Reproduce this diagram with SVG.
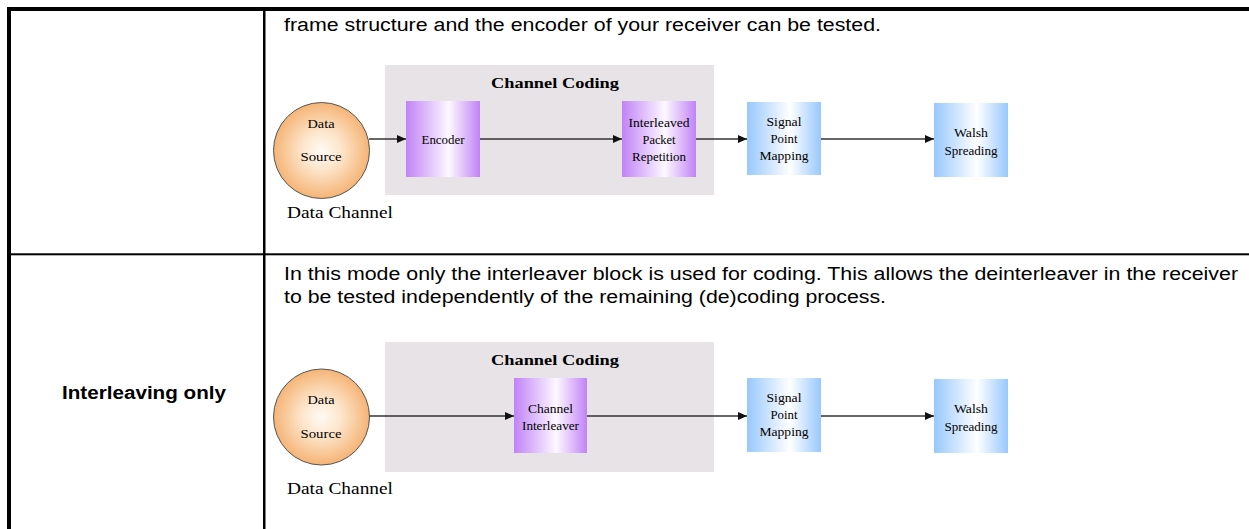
<svg xmlns="http://www.w3.org/2000/svg" width="1249" height="529" viewBox="0 0 1249 529">
<defs>
<linearGradient id="gPurple" x1="0" y1="0" x2="1" y2="0">
<stop offset="0" stop-color="#c183f6"/>
<stop offset="0.58" stop-color="#fdf8ff"/>
<stop offset="1" stop-color="#c183f6"/>
</linearGradient>
<linearGradient id="gBlue" x1="0" y1="0" x2="1" y2="0">
<stop offset="0" stop-color="#98c8fd"/>
<stop offset="0.58" stop-color="#ffffff"/>
<stop offset="1" stop-color="#98c8fd"/>
</linearGradient>
<radialGradient id="gOrange" cx="0.5" cy="0.5" r="0.5">
<stop offset="0" stop-color="#fffaf4"/>
<stop offset="0.4" stop-color="#fde6cc"/>
<stop offset="1" stop-color="#f5b476"/>
</radialGradient>
<marker id="arr" markerWidth="9" markerHeight="8" refX="9" refY="4" orient="auto" markerUnits="userSpaceOnUse">
<path d="M0,0 L9,4 L0,8 Z" fill="#111"/>
</marker>
<style>
.rule{fill:#000}
.body{font-family:"Liberation Sans",Arial,sans-serif;font-size:18px;fill:#000}
.bold{font-family:"Liberation Sans",Arial,sans-serif;font-size:18px;font-weight:bold;fill:#000}
.grp{fill:#e7e3e7}
.cc{font-family:"Liberation Serif","Times New Roman",serif;font-size:15px;font-weight:bold;fill:#000}
.lbl{font-family:"Liberation Serif","Times New Roman",serif;font-size:12px;fill:#000}
.cap{font-family:"Liberation Serif","Times New Roman",serif;font-size:16px;fill:#000}
.src{fill:url(#gOrange);stroke:#555;stroke-width:1}
.pbox{fill:url(#gPurple)}
.bbox{fill:url(#gBlue)}
.con{stroke:#333;stroke-width:1.3;fill:none;marker-end:url(#arr)}
</style>
</defs>
<rect width="1249" height="529" fill="#fff"/>
<g id="table">
<rect class="rule" x="7" y="7" width="1242" height="4"/>
<rect class="rule" x="7" y="7" width="4" height="522"/>
<rect class="rule" x="263" y="7" width="2.5" height="522"/>
<rect class="rule" x="7" y="253.3" width="1242" height="2"/>
</g>
<g id="texts">
<text class="body" x="284" y="31" textLength="597" lengthAdjust="spacingAndGlyphs">frame structure and the encoder of your receiver can be tested.</text>
<text class="body" x="284" y="280" textLength="954" lengthAdjust="spacingAndGlyphs">In this mode only the interleaver block is used for coding. This allows the deinterleaver in the receiver</text>
<text class="body" x="284" y="303" textLength="602" lengthAdjust="spacingAndGlyphs">to be tested independently of the remaining (de)coding process.</text>
<text class="bold" x="62" y="399" textLength="164" lengthAdjust="spacingAndGlyphs">Interleaving only</text>
</g>
<!-- top diagram -->
<g id="cc1">
<rect class="grp" x="385" y="65" width="329" height="130"/>
<text class="cc" x="555" y="88" text-anchor="middle" textLength="128" lengthAdjust="spacingAndGlyphs">Channel Coding</text>
</g>
<g id="src1">
<circle class="src" cx="321.5" cy="150.5" r="48"/>
<text class="lbl" x="321" y="128" text-anchor="middle" textLength="27" lengthAdjust="spacingAndGlyphs">Data</text>
<text class="lbl" x="321" y="161" text-anchor="middle" textLength="41" lengthAdjust="spacingAndGlyphs">Source</text>
<text class="cap" x="287" y="218" textLength="106" lengthAdjust="spacingAndGlyphs">Data Channel</text>
</g>
<g id="enc1">
<rect class="pbox" x="406" y="101" width="74" height="76"/>
<text class="lbl" x="443" y="144" text-anchor="middle" textLength="43" lengthAdjust="spacingAndGlyphs">Encoder</text>
</g>
<g id="ipr1">
<rect class="pbox" x="622" y="101" width="74" height="76"/>
<text class="lbl" x="659" y="127" text-anchor="middle" textLength="61" lengthAdjust="spacingAndGlyphs">Interleaved</text>
<text class="lbl" x="659" y="144" text-anchor="middle" textLength="33" lengthAdjust="spacingAndGlyphs">Packet</text>
<text class="lbl" x="659" y="161" text-anchor="middle" textLength="54" lengthAdjust="spacingAndGlyphs">Repetition</text>
</g>
<g id="spm1">
<rect class="bbox" x="747" y="102" width="74" height="73"/>
<text class="lbl" x="784" y="126" text-anchor="middle" textLength="35" lengthAdjust="spacingAndGlyphs">Signal</text>
<text class="lbl" x="784" y="143" text-anchor="middle" textLength="27" lengthAdjust="spacingAndGlyphs">Point</text>
<text class="lbl" x="784" y="160" text-anchor="middle" textLength="49" lengthAdjust="spacingAndGlyphs">Mapping</text>
</g>
<g id="walsh1">
<rect class="bbox" x="934" y="103" width="74" height="74"/>
<text class="lbl" x="971" y="137" text-anchor="middle" textLength="34" lengthAdjust="spacingAndGlyphs">Walsh</text>
<text class="lbl" x="971" y="155" text-anchor="middle" textLength="53" lengthAdjust="spacingAndGlyphs">Spreading</text>
</g>
<!-- bottom diagram -->
<g id="cc2">
<rect class="grp" x="385" y="342" width="329" height="130"/>
<text class="cc" x="555" y="365" text-anchor="middle" textLength="128" lengthAdjust="spacingAndGlyphs">Channel Coding</text>
</g>
<g id="src2">
<circle class="src" cx="321.5" cy="417" r="48"/>
<text class="lbl" x="321" y="404" text-anchor="middle" textLength="27" lengthAdjust="spacingAndGlyphs">Data</text>
<text class="lbl" x="321" y="438" text-anchor="middle" textLength="41" lengthAdjust="spacingAndGlyphs">Source</text>
<text class="cap" x="287" y="494" textLength="106" lengthAdjust="spacingAndGlyphs">Data Channel</text>
</g>
<g id="ci2">
<rect class="pbox" x="514" y="378" width="73" height="75"/>
<text class="lbl" x="550.5" y="413" text-anchor="middle" textLength="45" lengthAdjust="spacingAndGlyphs">Channel</text>
<text class="lbl" x="550.5" y="430" text-anchor="middle" textLength="57" lengthAdjust="spacingAndGlyphs">Interleaver</text>
</g>
<g id="spm2">
<rect class="bbox" x="747" y="378" width="74" height="74"/>
<text class="lbl" x="784" y="402" text-anchor="middle" textLength="35" lengthAdjust="spacingAndGlyphs">Signal</text>
<text class="lbl" x="784" y="419" text-anchor="middle" textLength="27" lengthAdjust="spacingAndGlyphs">Point</text>
<text class="lbl" x="784" y="436" text-anchor="middle" textLength="49" lengthAdjust="spacingAndGlyphs">Mapping</text>
</g>
<g id="walsh2">
<rect class="bbox" x="934" y="379" width="74" height="74"/>
<text class="lbl" x="971" y="413" text-anchor="middle" textLength="34" lengthAdjust="spacingAndGlyphs">Walsh</text>
<text class="lbl" x="971" y="431" text-anchor="middle" textLength="53" lengthAdjust="spacingAndGlyphs">Spreading</text>
</g>
<g id="connectors">
<line class="con" x1="369" y1="139" x2="406" y2="139"/>
<line class="con" x1="480" y1="139" x2="622" y2="139"/>
<line class="con" x1="696" y1="139" x2="747" y2="139"/>
<line class="con" x1="821" y1="139" x2="934" y2="139"/>
<line class="con" x1="369.5" y1="416" x2="514" y2="416"/>
<line class="con" x1="587" y1="416" x2="747" y2="416"/>
<line class="con" x1="821" y1="416" x2="934" y2="416"/>
</g>
</svg>
